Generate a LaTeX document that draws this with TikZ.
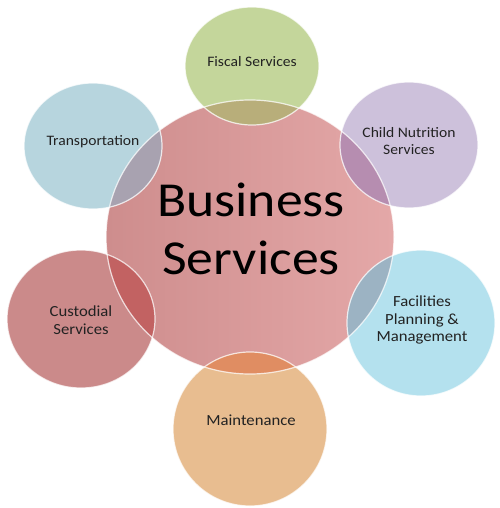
\documentclass[tikz,border=0pt]{standalone}
\usepackage{fontspec}
\setmainfont{Carlito}
\definecolor{cenL}{HTML}{CE8D8D}
\definecolor{cenR}{HTML}{E4A8A8}
\definecolor{fisc}{HTML}{C4D69B}
\definecolor{fiscO}{HTML}{B8AE7A}
\definecolor{trans}{HTML}{B7D5DE}
\definecolor{transO}{HTML}{A8A2B0}
\definecolor{child}{HTML}{CDC1DB}
\definecolor{childO}{HTML}{B68DB0}
\definecolor{cust}{HTML}{CB8A8A}
\definecolor{custO}{HTML}{C26262}
\definecolor{faci}{HTML}{B4E1EE}
\definecolor{faciO}{HTML}{9CB3C3}
\definecolor{maint}{HTML}{E8BD90}
\definecolor{maintO}{HTML}{E08D62}
\definecolor{txt}{HTML}{222222}
\begin{document}
\begin{tikzpicture}[x=1bp,y=-1bp,
  rim/.style={draw=white, draw opacity=0.75, line width=1.2bp},
  lbl/.style={font=\fontsize{14.5}{17.5}\selectfont, text=txt, align=center, inner sep=0pt, xscale=1.08},
  lblb/.style={font=\fontsize{15.5}{17.5}\selectfont, text=txt, align=center, inner sep=0pt, xscale=1.08},
  big/.style={font=\fontsize{49}{58}\selectfont, text=black, align=center, inner sep=0pt, xscale=1.1}]
\useasboundingbox (0,0) rectangle (500,508);
% central
\shade[left color=cenL, right color=cenR] (250,237) ellipse [x radius=144bp, y radius=137bp];
% satellites
\fill[fisc]  (252,66)  ellipse [x radius=67bp, y radius=59bp];
\fill[trans] (93,146)  ellipse [x radius=69bp, y radius=63bp];
\fill[child] (409,145) ellipse [x radius=69bp, y radius=63bp];
\fill[cust]  (81,319)  ellipse [x radius=74bp, y radius=69bp];
\fill[faci]  (421,323) ellipse [x radius=74bp, y radius=73bp];
\fill[maint] (250,429) ellipse [x radius=77bp, y radius=77bp];
% overlaps
\begin{scope}
  \clip (250,237) ellipse [x radius=144bp, y radius=137bp];
  \fill[fiscO]  (252,66)  ellipse [x radius=67bp, y radius=59bp];
  \fill[transO] (93,146)  ellipse [x radius=69bp, y radius=63bp];
  \fill[childO] (409,145) ellipse [x radius=69bp, y radius=63bp];
  \fill[custO]  (81,319)  ellipse [x radius=74bp, y radius=69bp];
  \fill[faciO]  (421,323) ellipse [x radius=74bp, y radius=73bp];
  \fill[maintO] (250,429) ellipse [x radius=77bp, y radius=77bp];
\end{scope}
% rims
\draw[rim] (250,237) ellipse [x radius=144bp, y radius=137bp];
\draw[rim] (252,66)  ellipse [x radius=67bp, y radius=59bp];
\draw[rim] (93,146)  ellipse [x radius=69bp, y radius=63bp];
\draw[rim] (409,145) ellipse [x radius=69bp, y radius=63bp];
\draw[rim] (81,319)  ellipse [x radius=74bp, y radius=69bp];
\draw[rim] (421,323) ellipse [x radius=74bp, y radius=73bp];
\draw[rim] (250,429) ellipse [x radius=77bp, y radius=77bp];
% labels
\node[big]  (bs)    at (251,229) {Business\\Services};
\node[lbl]  (fis)   at (252,62)  {Fiscal Services};
\node[lbl]  (tra)   at (93,142)  {Transportation};
\node[lbl]  (chi)   at (409,141) {Child Nutrition\\Services};
\node[lblb] (cus)   at (81,320)  {Custodial\\Services};
\node[lblb] (fac)   at (422,320) {Facilities\\Planning \&\\Management};
\node[lblb] (mai)   at (251,420) {Maintenance};
\end{tikzpicture}
\end{document}
